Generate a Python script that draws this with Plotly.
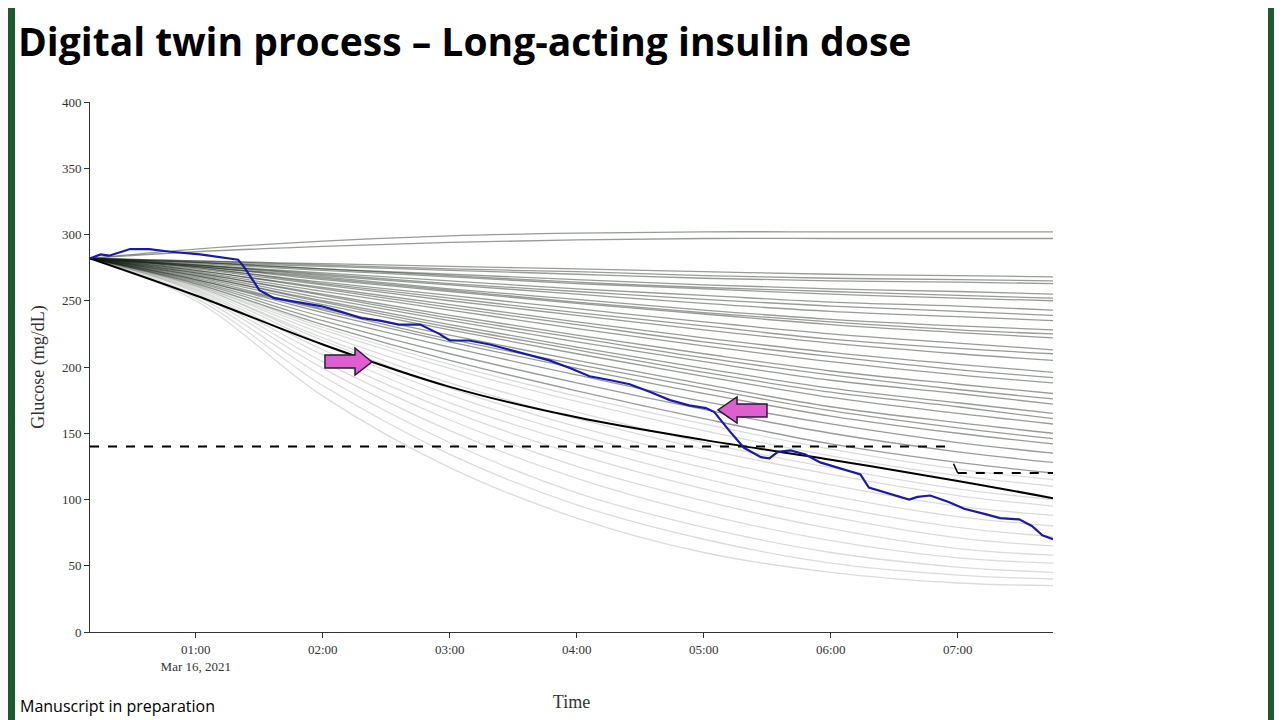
import pandas as pd
import plotly.graph_objects as go

# time axis in minutes after midnight, Mar 16 2021
fan_minutes = [10, 60, 120, 180, 240, 300, 360, 420, 465]

# simulated digital-twin trajectories (glucose at each fan_minutes point)
fan_lines = [
    [282, 289, 295, 299, 301, 302, 302, 302, 302],
    [282, 287, 291, 294, 296, 297, 297, 297, 297],
    [282, 280, 278, 276, 274, 272, 270, 269, 268],
    [282, 280, 277, 274, 272, 269, 267, 266, 265],
    [282, 279, 276, 273, 270, 267, 265, 264, 263],
    [282, 279, 274, 270, 266, 262, 259, 257, 255],
    [282, 279, 274, 269, 264, 260, 257, 254, 252],
    [282, 278, 273, 268, 263, 259, 255, 252, 250],
    [282, 277, 271, 265, 259, 254, 249, 246, 243],
    [282, 277, 270, 263, 257, 251, 246, 242, 239],
    [282, 277, 269, 262, 255, 248, 242, 238, 235],
    [282, 276, 268, 259, 251, 243, 236, 231, 228],
    [282, 276, 267, 258, 249, 241, 234, 228, 225],
    [282, 276, 266, 257, 248, 240, 232, 226, 222],
    [282, 275, 264, 254, 244, 234, 225, 218, 213],
    [282, 275, 263, 252, 241, 231, 221, 214, 210],
    [282, 274, 262, 250, 239, 228, 218, 210, 205],
    [282, 273, 260, 247, 234, 222, 211, 202, 196],
    [282, 273, 259, 245, 232, 219, 208, 198, 192],
    [282, 272, 257, 243, 229, 216, 204, 194, 188],
    [282, 271, 255, 239, 224, 210, 197, 187, 180],
    [282, 271, 254, 237, 222, 207, 194, 183, 176],
    [282, 270, 252, 235, 219, 204, 190, 180, 172],
    [282, 269, 250, 232, 215, 199, 184, 173, 165],
    [282, 269, 249, 230, 213, 196, 181, 170, 161],
    [282, 268, 247, 228, 210, 193, 177, 165, 157],
    [282, 267, 244, 224, 205, 187, 170, 158, 150],
    [282, 266, 243, 221, 202, 184, 167, 154, 146],
    [282, 266, 241, 219, 199, 180, 163, 150, 142],
    [282, 265, 238, 215, 194, 174, 157, 143, 135],
    [282, 264, 235, 210, 188, 168, 150, 136, 128],
    [282, 263, 232, 205, 182, 161, 142, 128, 120],
    [282, 263, 230, 202, 178, 157, 138, 123, 115],
    [282, 262, 228, 199, 174, 152, 133, 118, 110],
    [282, 262, 225, 193, 166, 143, 124, 108, 100],
    [282, 261, 222, 188, 161, 138, 119, 103, 95],
    [282, 261, 220, 184, 155, 131, 111, 95, 88],
    [282, 260, 217, 179, 149, 124, 103, 87, 80],
    [282, 259, 213, 173, 142, 116, 95, 79, 72],
    [282, 258, 209, 167, 134, 108, 87, 71, 65],
    [282, 257, 204, 160, 125, 99, 78, 63, 58],
    [282, 256, 199, 152, 116, 89, 69, 56, 52],
    [282, 254, 193, 143, 105, 79, 60, 49, 45],
    [282, 252, 186, 134, 96, 70, 52, 43, 40],
    [282, 250, 178, 124, 86, 60, 45, 37, 35],
]

mean_values = [282, 254, 217, 185, 162, 145, 130, 114, 101]

cgm_minutes = [10, 15, 19, 29, 38, 48, 62, 71, 80, 83, 90, 97, 109, 119, 128, 138,
               147, 156, 166, 175, 180, 189, 199, 208, 218, 227, 237, 246, 256, 265,
               275, 284, 293, 301, 305, 312, 319, 327, 331, 335, 341, 348, 355, 364,
               374, 378, 388, 397, 401, 407, 416, 423, 433, 440, 449, 455, 460, 465]
cgm_values = [282, 285, 284, 289, 289, 287, 285, 283, 281, 275, 258, 252, 249, 246, 242, 237,
              235, 232, 232, 225, 220, 220, 217, 213, 209, 205, 199, 193, 190, 187,
              181, 175, 171, 169, 166, 152, 139, 132, 131, 136, 137, 134, 128, 124,
              119, 109, 104, 100, 102, 103, 98, 93, 89, 86, 85, 80, 73, 70]

target_minutes = [10, 414, 418, 420, 465]
target_values = [140, 140, None, 120, 120]

base = pd.Timestamp("2021-03-16 00:00")
def to_time(mins):
    return [base + pd.Timedelta(minutes=m) for m in mins]

fig = go.Figure()

for vals in fan_lines:
    alpha = 0.45 if vals[-1] > 115 else 0.16
    fig.add_trace(go.Scatter(
        x=to_time(fan_minutes), y=vals, mode='lines',
        line=dict(color=f'rgba(25,35,25,{alpha})', width=1.3, shape='spline'),
        hoverinfo='skip', showlegend=False))

fig.add_trace(go.Scatter(
    x=to_time(target_minutes), y=target_values, mode='lines',
    line=dict(color='black', width=1.8, dash='dash'), showlegend=False))
fig.add_trace(go.Scatter(
    x=to_time([418, 420]), y=[127, 120], mode='lines',
    line=dict(color='black', width=1.5), showlegend=False))

fig.add_trace(go.Scatter(
    x=to_time(fan_minutes), y=mean_values, mode='lines',
    line=dict(color='black', width=2, shape='spline'), showlegend=False))

fig.add_trace(go.Scatter(
    x=to_time(cgm_minutes), y=cgm_values, mode='lines',
    line=dict(color='#1a1aa8', width=2.2), showlegend=False))

# plot area spans px 90..1053 horizontally, 102..632 vertically on screen
def px(x):
    return (x - 90) / 963
def py(y):
    return (632 - y) / 530

shapes = [
    dict(type='rect', xref='paper', yref='paper', x0=px(15), x1=px(1268), y0=py(730), y1=py(8),
         fillcolor='white', line=dict(width=0), layer='below'),
]
arrow_r = [(325, 355), (355, 355), (355, 348), (372, 362), (355, 375), (355, 368), (325, 368)]
arrow_l = [(767, 404), (737, 404), (737, 397), (718, 410), (737, 423), (737, 417), (767, 417)]
for pts in (arrow_r, arrow_l):
    path = 'M ' + ' L '.join(f'{px(a):.4f},{py(b):.4f}' for a, b in pts) + ' Z'
    shapes.append(dict(type='path', xref='paper', yref='paper', path=path,
                       fillcolor='#e05fd0', line=dict(color='#2a1a3a', width=1.5)))

tick_vals = to_time([60, 120, 180, 240, 300, 360, 420])
tick_text = ['01:00<br>Mar 16, 2021', '02:00', '03:00', '04:00', '05:00', '06:00', '07:00']

serif = 'Liberation Serif, Times New Roman, serif'
fig.update_layout(
    width=1282, height=720,
    paper_bgcolor='#1f5a2e', plot_bgcolor='white',
    margin=dict(l=82, r=237, t=94, b=96),
    shapes=shapes,
    xaxis=dict(range=[base + pd.Timedelta(minutes=10), base + pd.Timedelta(minutes=465)],
               tickvals=tick_vals, ticktext=tick_text, showgrid=False, zeroline=False,
               showline=True, linecolor='#333', ticks='outside', ticklen=5, tickcolor='#333',
               tickfont=dict(family=serif, size=13, color='#333'),
               title=dict(text='Time', font=dict(family=serif, size=18, color='#333'), standoff=22)),
    yaxis=dict(range=[0, 400], dtick=50, showgrid=False, zeroline=False,
               showline=True, linecolor='#333', ticks='outside', ticklen=5, tickcolor='#333',
               tickfont=dict(family=serif, size=13, color='#333'),
               title=dict(text='Glucose (mg/dL)', font=dict(family=serif, size=18, color='#333'), standoff=12)),
    annotations=[
        dict(text='<b>Digital twin process – Long-acting insulin dose</b>', xref='paper', yref='paper',
             x=px(16), y=py(40), xanchor='left', yanchor='middle', showarrow=False,
             font=dict(family='Open Sans, sans-serif', size=39, color='black')),
        dict(text='Manuscript in preparation', xref='paper', yref='paper',
             x=px(18), y=py(706), xanchor='left', yanchor='middle', showarrow=False,
             font=dict(family='Open Sans, sans-serif', size=16, color='black')),
    ],
)

fig.write_html("out.html")
